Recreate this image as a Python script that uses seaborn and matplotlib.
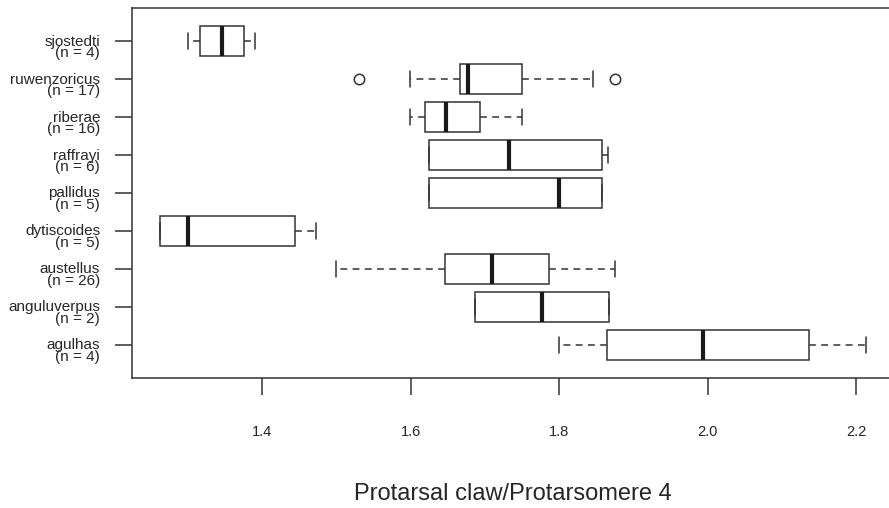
import numpy as np
import pandas as pd
import matplotlib
matplotlib.use("Agg")
import matplotlib.pyplot as plt
import matplotlib.transforms as mtransforms
import seaborn as sns

# Five-number summaries of the protarsal claw / protarsomere 4 ratio per species
species = ["sjostedti", "ruwenzoricus", "riberae", "raffrayi", "pallidus",
           "dytiscoides", "austellus", "anguluverpus", "agulhas"]
counts = [4, 17, 16, 6, 5, 5, 26, 2, 4]
whisker_low = [1.300, 1.599, 1.599, 1.625, 1.625, 1.263, 1.500, 1.687, 1.800]
q1 = [1.316, 1.666, 1.619, 1.625, 1.625, 1.263, 1.647, 1.687, 1.864]
median = [1.346, 1.677, 1.648, 1.733, 1.800, 1.300, 1.710, 1.777, 1.994]
q3 = [1.376, 1.750, 1.694, 1.858, 1.858, 1.444, 1.786, 1.867, 2.137]
whisker_high = [1.391, 1.846, 1.750, 1.866, 1.858, 1.473, 1.875, 1.867, 2.214]
outlier_species = ["ruwenzoricus", "ruwenzoricus"]
outlier_values = [1.531, 1.875]
x_ticks = [1.4, 1.6, 1.8, 2.0, 2.2]
x_label = "Protarsal claw/Protarsomere 4"

sns.set_style("ticks")
plt.rcParams["font.family"] = ["Liberation Sans", "DejaVu Sans"]

# Long-form table: the five summary values for each species reproduce the
# quartiles exactly and whiskers span min to max
summary = pd.DataFrame({
    "species": np.repeat(species, 5),
    "ratio": np.column_stack([whisker_low, q1, median, q3, whisker_high]).ravel(),
})
outliers = pd.DataFrame({"species": outlier_species, "ratio": outlier_values})

line_c = "#333333"
text_c = "#262626"

fig = plt.figure(figsize=(8.89, 5.08), dpi=100)
ax = fig.add_axes([132 / 889, 1 - 378 / 508, (894 - 132) / 889, (378 - 8) / 508])

sns.boxplot(
    data=summary, x="ratio", y="species", order=species, orient="h",
    whis=(0, 100), width=0.8, fill=True, ax=ax,
    boxprops=dict(facecolor="white", edgecolor=line_c, linewidth=1.1),
    medianprops=dict(color="#1a1a1a", linewidth=3.0, solid_capstyle="butt"),
    whiskerprops=dict(color=line_c, linewidth=1.1, linestyle=(0, (4.5, 3.5))),
    capprops=dict(color=line_c, linewidth=1.1),
)
sns.stripplot(
    data=outliers, x="ratio", y="species", order=species, orient="h",
    jitter=False, size=7.5, color="white", edgecolor=line_c, linewidth=1.1,
    ax=ax,
)

ax.set_xlim(1.4 - 130 / 742.5, 1.4 + 632 / 742.5)
ax.set_ylim(8.87, -0.87)
ax.set_xticks(x_ticks, labels=[f"{t:.1f}" for t in x_ticks])
ax.set_yticks(range(len(species)),
              labels=[f"{s}\n(n = {n})" for s, n in zip(species, counts)])

ax.tick_params(axis="x", length=12, width=1.1, pad=22, color=line_c)
ax.tick_params(axis="y", length=12, width=1.1, pad=11, color=line_c)

# Two-line species labels: first line sits on the tick, count line below it
shift = mtransforms.ScaledTranslation(0, -6 / 100, fig.dpi_scale_trans)
for lab in ax.get_yticklabels():
    lab.set_linespacing(0.8)
    lab.set_fontsize(11)
    lab.set_color(text_c)
    lab.set_transform(lab.get_transform() + shift)
for lab in ax.get_xticklabels():
    lab.set_fontsize(10.5)
    lab.set_color(text_c)

for sp in ax.spines.values():
    sp.set_color(line_c)
    sp.set_linewidth(1.1)

ax.set_ylabel("")
ax.set_xlabel(x_label, fontsize=17, color=text_c)
ax.xaxis.label.set_va("center")
ax.xaxis.set_label_coords(0.5, (378 - 494) / 370)

fig.savefig("out.png", dpi=100)
